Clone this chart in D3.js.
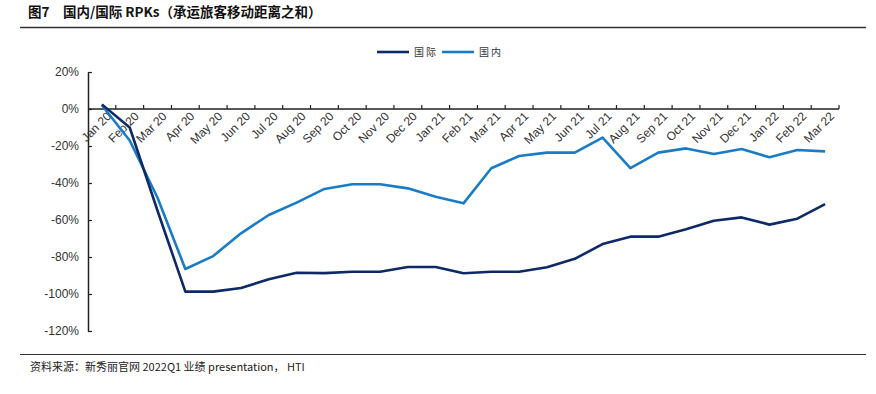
<!DOCTYPE html>
<html>
<head>
<meta charset="utf-8">
<script src="https://cdn.jsdelivr.net/npm/d3@7"></script>
<style>
  body { margin: 0; background: #fff; }
  text { font-family: "Liberation Sans", Arial, sans-serif; }
  .cn { font-family: "Noto Sans CJK SC", "Liberation Sans", sans-serif; }
</style>
</head>
<body>
<div id="chart"></div>
<script>
var months = ["Jan 20","Feb 20","Mar 20","Apr 20","May 20","Jun 20","Jul 20","Aug 20","Sep 20","Oct 20","Nov 20","Dec 20",
              "Jan 21","Feb 21","Mar 21","Apr 21","May 21","Jun 21","Jul 21","Aug 21","Sep 21","Oct 21","Nov 21","Dec 21",
              "Jan 22","Feb 22","Mar 22"]

var intl = [2.5,-10,-55,-98.7,-98.7,-96.8,-92,-88.5,-88.7,-88,-88,-85.4,
            -85.4,-88.8,-88,-88,-85.5,-81,-73,-69,-69,-65,-60.4,-58.6,
            -62.5,-59.3,-51.4]

var dom = [2,-17,-48,-86.5,-79.5,-67.2,-57.3,-50.6,-43.2,-40.7,-40.7,-42.9,
           -47.4,-51,-32,-25.4,-23.6,-23.6,-15.5,-32,-23.6,-21.3,-24.3,-21.6,
           -26.1,-22.2,-22.9]

var yTicks = [20,0,-20,-40,-60,-80,-100,-120]

var seriesNames = ["国际","国内"]
var colors = ["#0d2a66","#1a7cc6"]

var width = 876, height = 394

var svg = d3.select("#chart").append("svg")
    .attr("width", width)
    .attr("height", height)

// title
svg.append("text")
    .attr("class", "cn")
    .attr("x", 28)
    .attr("y", 17)
    .attr("font-size", 13.5)
    .attr("font-weight", "bold")
    .attr("fill", "#111")
    .text("图7　国内/国际 RPKs（承运旅客移动距离之和）")

svg.append("line")
    .attr("x1", 20).attr("x2", 866)
    .attr("y1", 27.5).attr("y2", 27.5)
    .attr("stroke", "#333").attr("stroke-width", 1.5)

svg.append("line")
    .attr("x1", 20).attr("x2", 866)
    .attr("y1", 354.5).attr("y2", 354.5)
    .attr("stroke", "#333").attr("stroke-width", 1.2)

svg.append("text")
    .attr("class", "cn")
    .attr("x", 30)
    .attr("y", 371)
    .attr("font-size", 11)
    .attr("fill", "#222")
    .text("资料来源：新秀丽官网 2022Q1 业绩 presentation， HTI")

var x = d3.scaleBand().domain(months).range([88, 839])
var y = d3.scaleLinear().domain([-120, 20]).range([331, 72])

var g = svg.append("g")

// y axis
var yAxis = g.append("g")
    .attr("transform", "translate(88,0)")
    .call(d3.axisLeft(y).tickValues(yTicks).tickSizeInner(-4).tickSizeOuter(0)
        .tickFormat(function(d) { return d + "%" }))
yAxis.select(".domain").attr("stroke", "#222").attr("stroke-width", 1.5)
yAxis.selectAll(".tick line").attr("stroke", "#222").attr("stroke-width", 1.2)
yAxis.selectAll(".tick text")
    .attr("x", -9)
    .attr("font-size", 12)
    .attr("fill", "#333")
    .attr("font-family", "Liberation Sans, Arial, sans-serif")

// x axis on the zero line
var xg = g.append("g").attr("transform", "translate(0," + y(0) + ")")
xg.append("line")
    .attr("x1", 88).attr("x2", 839)
    .attr("stroke", "#222").attr("stroke-width", 1.5)
var bounds = months.map(function(m) { return x(m) + x.bandwidth() })
xg.selectAll(".xt").data(bounds).enter().append("line")
    .attr("class", "xt")
    .attr("x1", function(d) { return d }).attr("x2", function(d) { return d })
    .attr("y1", 0).attr("y2", -4)
    .attr("stroke", "#222").attr("stroke-width", 1.2)

xg.selectAll(".xl").data(months).enter().append("text")
    .attr("class", "xl")
    .attr("transform", function(d) {
        return "translate(" + (x(d) + x.bandwidth() / 2 + 7) + ",5) rotate(-45)"
    })
    .attr("text-anchor", "end")
    .attr("dy", "0.35em")
    .attr("font-size", 12)
    .attr("fill", "#333")
    .text(function(d) { return d })

var line = d3.line()
    .x(function(d, i) { return x(months[i]) + x.bandwidth() / 2 })
    .y(function(d) { return y(d) })

g.append("path").datum(dom)
    .attr("fill", "none")
    .attr("stroke", colors[1])
    .attr("stroke-width", 2.6)
    .attr("stroke-linejoin", "round")
    .attr("d", line)

g.append("path").datum(intl)
    .attr("fill", "none")
    .attr("stroke", colors[0])
    .attr("stroke-width", 2.6)
    .attr("stroke-linejoin", "round")
    .attr("d", line)

// legend
var leg = svg.append("g").attr("transform", "translate(377,52)")
var legX = [0, 65]
seriesNames.forEach(function(name, i) {
    leg.append("line")
        .attr("x1", legX[i]).attr("x2", legX[i] + 32)
        .attr("y1", 0).attr("y2", 0)
        .attr("stroke", colors[i]).attr("stroke-width", 2.6)
    leg.append("text")
        .attr("class", "cn")
        .attr("x", legX[i] + 37)
        .attr("y", 0)
        .attr("dy", "0.35em")
        .attr("font-size", 10)
        .attr("letter-spacing", 2)
        .attr("fill", "#333")
        .text(name)
})
</script>
</body>
</html>
